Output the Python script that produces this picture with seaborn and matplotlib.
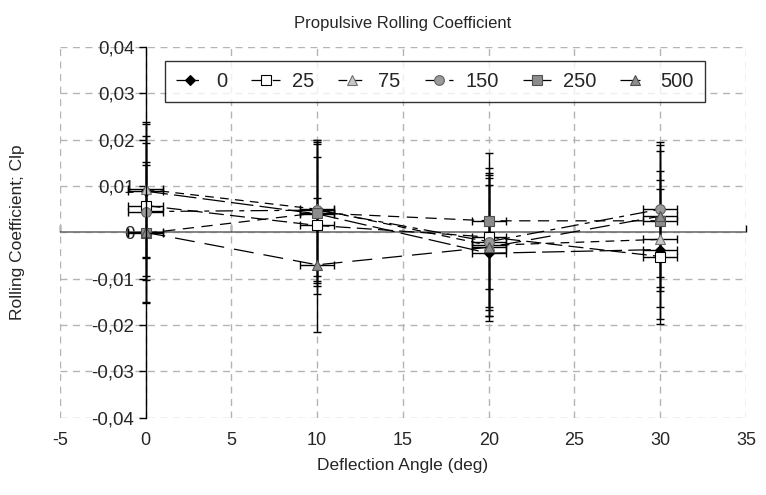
import numpy as np
import pandas as pd
import matplotlib
matplotlib.use("Agg")
import matplotlib.pyplot as plt
from matplotlib.ticker import FuncFormatter, MultipleLocator
import seaborn as sns

# ---- data ----
angles = [0, 10, 20, 30]
series_names = ["0", "25", "75", "150", "250", "500"]
clp_0   = [0.0089, 0.0040, -0.0045, -0.0037]
clp_25  = [0.0058, 0.0015, -0.0010, -0.0052]
clp_75  = [0.0093, 0.0050, -0.0028, -0.0015]
clp_150 = [0.0045, 0.0048, -0.0020, 0.0050]
clp_250 = [-0.0002, 0.0042, 0.0025, 0.0025]
clp_500 = [0.0000, -0.0070, -0.0032, 0.0035]
yerr_0   = [0.0144, 0.0150, 0.0147, 0.0150]
yerr_25  = [0.0151, 0.0148, 0.0150, 0.0146]
yerr_75  = [0.0146, 0.0145, 0.0152, 0.0147]
yerr_150 = [0.0148, 0.0152, 0.0148, 0.0146]
yerr_250 = [0.0148, 0.0158, 0.0147, 0.0151]
yerr_500 = [0.0152, 0.0145, 0.0149, 0.0153]
xerr_deg = 1.0

values = [clp_0, clp_25, clp_75, clp_150, clp_250, clp_500]
yerrs = [yerr_0, yerr_25, yerr_75, yerr_150, yerr_250, yerr_500]

rows = []
for name, v in zip(series_names, values):
    for a, c in zip(angles, v):
        rows.append({"angle": a, "clp": c, "series": name})
df = pd.DataFrame(rows)

styles = {
    "0":   dict(marker="D", mfc="black",   mec="black",   ms=5.5, ls=(0, (18, 5))),
    "25":  dict(marker="s", mfc="white",   mec="black",   ms=7,   ls=(0, (12, 5))),
    "75":  dict(marker="^", mfc="#c8c8c8", mec="#707070", ms=7,   ls=(0, (7, 5))),
    "150": dict(marker="o", mfc="#9a9a9a", mec="#606060", ms=7,   ls=(0, (14, 5, 4, 5))),
    "250": dict(marker="s", mfc="#8c8c8c", mec="#505050", ms=7,   ls=(0, (9, 6))),
    "500": dict(marker="^", mfc="#8c8c8c", mec="#505050", ms=7.5, ls=(0, (16, 8))),
}

sns.set_style("white")
plt.rcParams["font.family"] = ["Liberation Sans", "DejaVu Sans"]
plt.rcParams["axes.unicode_minus"] = False

fig = plt.figure(figsize=(7.66, 4.95), dpi=100)
ax = fig.add_axes([0.078, 0.156, 0.896, 0.749])

for name, ye in zip(series_names, yerrs):
    sub = df[df["series"] == name]
    ax.errorbar(sub["angle"], sub["clp"], yerr=ye, xerr=xerr_deg, fmt="none",
                ecolor="black", elinewidth=1.0, capsize=3.0, capthick=1.0, zorder=3)

for name in series_names:
    sub = df[df["series"] == name]
    st = styles[name]
    sns.lineplot(data=sub, x="angle", y="clp", ax=ax, color="black", linewidth=0.9,
                 linestyle=st["ls"], marker=st["marker"], markersize=st["ms"],
                 markerfacecolor=st["mfc"], markeredgecolor=st["mec"], markeredgewidth=0.8,
                 label=name, zorder=4, legend=True)

ax.set_xlim(-5, 35)
ax.set_ylim(-0.04, 0.04)
ax.xaxis.set_major_locator(MultipleLocator(5))
ax.yaxis.set_major_locator(MultipleLocator(0.01))

def yfmt(v, pos):
    if abs(v) < 1e-9:
        return "0"
    return f"{v:.2f}".replace(".", ",")

ax.yaxis.set_major_formatter(FuncFormatter(yfmt))
ax.xaxis.set_major_formatter(FuncFormatter(lambda v, p: f"{v:.0f}"))

ax.grid(True, color="#b4b4b4", linestyle=(0, (5, 4)), linewidth=1.0)
ax.set_axisbelow(True)

for s in ["top", "right", "bottom"]:
    ax.spines[s].set_visible(False)
ax.spines["left"].set_position(("data", 0))
ax.spines["left"].set_color("black")
ax.spines["left"].set_linewidth(1.0)
ax.spines["left"].set_zorder(5)

ax.tick_params(axis="y", direction="out", length=5, width=1, color="black",
               labelsize=13.5, pad=3, left=True)
ax.tick_params(axis="x", length=0, labelsize=13, pad=10)

ax.axhline(0, color="#707070", linewidth=1.2, zorder=2.5)
sec = ax.secondary_xaxis(0.5)
sec.set_xticks(ax.get_xticks())
sec.tick_params(axis="x", direction="out", length=5, width=1, color="black", labelbottom=False)
sec.set_xticklabels([])
for s in sec.spines.values():
    s.set_visible(False)

ax.set_xlabel("Deflection Angle (deg)", fontsize=12.5, labelpad=7)
ax.set_ylabel("Rolling Coefficient; Clp", fontsize=12.5, labelpad=0)
ax.yaxis.set_label_coords(-0.05, 0.5)
ax.set_title("Propulsive Rolling Coefficient", fontsize=12, pad=14)

leg = ax.legend(loc="upper left", bbox_to_anchor=(0.153, 0.962), ncol=6, fontsize=14.5,
                frameon=True, fancybox=False, edgecolor="black", handlelength=1.4,
                handletextpad=0.6, columnspacing=1.2, borderpad=0.55, numpoints=1,
                borderaxespad=0)
leg.get_frame().set_linewidth(1.0)
leg.set_zorder(10)

fig.savefig("out.png", dpi=100)
